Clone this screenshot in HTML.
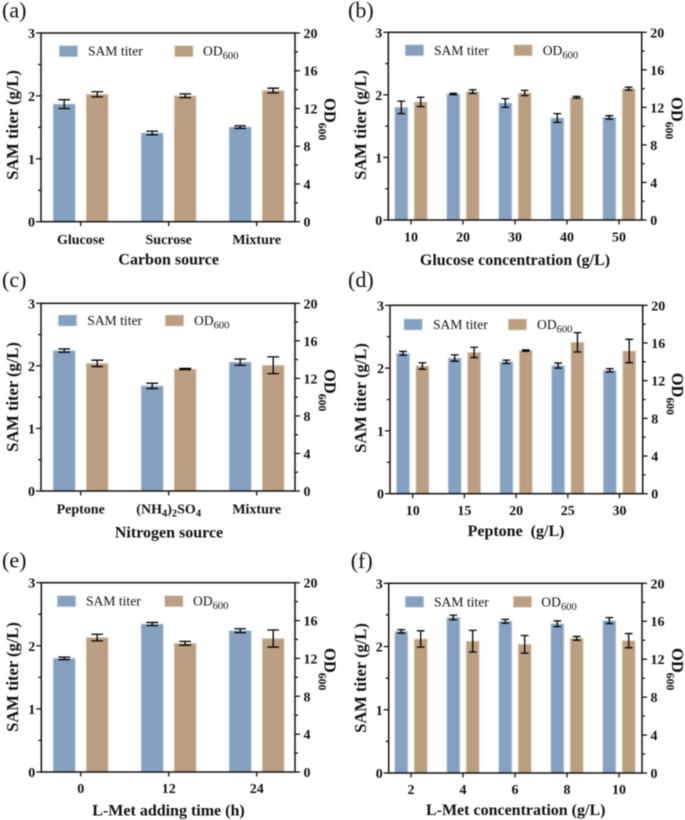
<!DOCTYPE html>
<html lang="en">
<head>
<meta charset="utf-8">
<title>SAM titer and OD600 under different culture conditions</title>
<style>
html,body{margin:0;padding:0;background:#fff;width:685px;height:820px;overflow:hidden}
svg{display:block;filter:blur(.4px)}
text{font-family:"Liberation Serif",serif;fill:#111}
.b{font-weight:bold}
</style>
</head>
<body>
<svg id="figure" width="685" height="820" viewBox="0 0 685 820" xmlns="http://www.w3.org/2000/svg"></svg>
<script>
// Shared axis tick values
const leftMajorTicks = [0, 1, 2, 3];
const leftMinorTicks = [0.5, 1.5, 2.5];
const rightMajorTicks = [0, 4, 8, 12, 16, 20];
const rightMinorTicks = [2, 6, 10, 14, 18];
const leftMax = 3;
const rightMax = 20;
const seriesNames = ["SAM titer", "OD_600"];

// Panel (a)
const catsA = ["Glucose", "Sucrose", "Mixture"];
const samA = [1.87, 1.41, 1.505];
const samErrA = [0.07, 0.03, 0.02];
const odA = [13.5, 13.35, 13.9];
const odErrA = [0.27, 0.2, 0.25];

// Panel (b)
const catsB = ["10", "20", "30", "40", "50"];
const samB = [1.8, 2.014, 1.87, 1.63, 1.64];
const samErrB = [0.1, 0.012, 0.07, 0.07, 0.027];
const odB = [12.58, 13.68, 13.53, 13.07, 14];
const odErrB = [0.5, 0.2, 0.28, 0.1, 0.16];

// Panel (c)
const catsC = ["Peptone", "(NH_4_)_2_SO_4", "Mixture"];
const samC = [2.245, 1.68, 2.06];
const samErrC = [0.027, 0.043, 0.05];
const odC = [13.6, 13, 13.4];
const odErrC = [0.34, 0.06, 0.89];

// Panel (d)
const catsD = ["10", "15", "20", "25", "30"];
const samD = [2.235, 2.16, 2.1, 2.04, 1.965];
const samErrD = [0.03, 0.05, 0.027, 0.04, 0.027];
const odD = [13.56, 15, 15.2, 16.07, 15.15];
const odErrD = [0.34, 0.55, 0.07, 1.03, 1.24];

// Panel (e)
const catsE = ["0", "12", "24"];
const samE = [1.8, 2.345, 2.24];
const samErrE = [0.02, 0.025, 0.03];
const odE = [14.2, 13.6, 14.1];
const odErrE = [0.35, 0.2, 0.9];

// Panel (f)
const catsF = ["2", "4", "6", "8", "10"];
const samF = [2.24, 2.46, 2.4, 2.36, 2.41];
const samErrF = [0.027, 0.037, 0.03, 0.045, 0.047];
const odF = [14.13, 13.9, 13.57, 14.2, 13.95];
const odErrF = [0.86, 1.14, 0.93, 0.2, 0.75];

const NS = "http://www.w3.org/2000/svg";
const fig = document.getElementById("figure");
const INK = "#111";
const BLUE = "#84a1c1";
const BROWN = "#bc9f80";
const BLUE_EDGE = "#c3d2e2";
const BROWN_EDGE = "#e2d3c3";

function make(parent, tag, attrs) {
  const el = document.createElementNS(NS, tag);
  for (const k in attrs) el.setAttribute(k, attrs[k]);
  parent.appendChild(el);
  return el;
}

// Text with _subscript_ runs written as real tspans
function rich(parent, str, attrs, subSize, subDrop) {
  const t = make(parent, "text", attrs);
  const parts = str.split("_");
  let pending = 0;
  parts.forEach(function (p, i) {
    if (!p) return;
    const sp = make(t, "tspan", {});
    sp.textContent = p;
    if (i % 2 === 1) {
      sp.setAttribute("font-size", subSize);
      sp.setAttribute("dy", subDrop - pending);
      pending = subDrop;
    } else if (pending) {
      sp.setAttribute("dy", -pending);
      pending = 0;
    }
  });
  return t;
}

function tick(g, x1, y1, x2, y2, name) {
  const l = make(g, "line", { x1: x1, y1: y1, x2: x2, y2: y2, stroke: INK, "stroke-width": 1.3 });
  
  
}

function drawPanel(p) {
  const g = make(fig, "g", {});
  
  

  const yLeft = function (v) { return p.bottom - (v / leftMax) * (p.bottom - p.top); };
  const yRight = function (v) { return p.bottom - (v / rightMax) * (p.bottom - p.top); };
  const xCat = function (i) { return p.left + p.first + i * p.step; };

  const lab = make(g, "text", { x: p.labelX, y: p.labelY, "font-size": 22 });
  lab.textContent = "(" + p.id + ")";
  
  

  // Bars
  function bars(vals, errs, scale, off, fill, edge, name) {
    vals.forEach(function (v, i) {
      const cx = xCat(i) + off;
      const bar = make(g, "rect", {
        x: cx - p.barW / 2, y: scale(v), width: p.barW, height: p.bottom - scale(v),
        fill: fill, stroke: edge, "stroke-width": 0.8
      });
      
      
      const eb = make(g, "path", {
        d: "M" + (cx - p.cap / 2) + " " + scale(v + errs[i]) + "H" + (cx + p.cap / 2) +
           "M" + cx + " " + scale(v + errs[i]) + "V" + scale(v - errs[i]) +
           "M" + (cx - p.cap / 2) + " " + scale(v - errs[i]) + "H" + (cx + p.cap / 2),
        fill: "none", stroke: "#000", "stroke-width": 1.3
      });
      
      
    });
  }
  bars(p.sam, p.samErr, yLeft, -p.barOff, BLUE, BLUE_EDGE, "sam-titer");
  bars(p.od, p.odErr, yRight, p.barOff, BROWN, BROWN_EDGE, "od600");

  // Frame
  const frame = make(g, "rect", {
    x: p.left, y: p.top, width: p.right - p.left, height: p.bottom - p.top,
    fill: "none", stroke: INK, "stroke-width": 1.5
  });
  
  

  // Left axis
  leftMajorTicks.forEach(function (v) {
    tick(g, p.left - 5, yLeft(v), p.left, yLeft(v), "left-major-tick");
    const t = make(g, "text", { x: p.left - 6, y: yLeft(v) + 5, "font-size": 14, "text-anchor": "end", "class": "b" });
    t.textContent = v;
    
    
  });
  leftMinorTicks.forEach(function (v) {
    tick(g, p.left - 3, yLeft(v), p.left, yLeft(v), "left-minor-tick");
  });

  // Right axis
  rightMajorTicks.forEach(function (v) {
    tick(g, p.right, yRight(v), p.right + 5, yRight(v), "right-major-tick");
    const t = make(g, "text", { x: p.right + 8.5, y: yRight(v) + 5, "font-size": 14, "class": "b" });
    t.textContent = v;
    
    
  });
  rightMinorTicks.forEach(function (v) {
    tick(g, p.right, yRight(v), p.right + 3, yRight(v), "right-minor-tick");
  });

  // Category axis
  p.cats.forEach(function (c, i) {
    tick(g, xCat(i), p.bottom, xCat(i), p.bottom + 4.5, "x-tick");
    const t = rich(g, c, { x: xCat(i), y: p.bottom + p.catDrop, "font-size": 14, "text-anchor": "middle", "class": "b" }, 10.5, 3);
    
    
  });

  // Axis titles
  const xt = make(g, "text", { x: p.titleX, y: p.titleY, "font-size": 16, "text-anchor": "middle", "class": "b" });
  xt.textContent = p.title;
  
  

  const yt = make(g, "text", {
    x: 0, y: 0, "font-size": 16.5, "text-anchor": "middle", "class": "b",
    transform: "translate(" + p.yLabelX + " " + p.yLabelY + ") rotate(-90)"
  });
  yt.textContent = "SAM titer (g/L)";
  
  

  const rt = rich(g, "OD_600", {
    x: 0, y: 0, "font-size": 16.5, "class": "b",
    transform: "translate(" + p.rLabelX + " " + p.rLabelY + ") rotate(90)"
  }, 11.7, 5.6);
  
  

  // Legend
  const lg = make(g, "g", {});
  
  
  [[p.legX1, BLUE, BLUE_EDGE, p.legT1], [p.legX2, BROWN, BROWN_EDGE, p.legT2]].forEach(function (e, i) {
    const s = make(lg, "rect", { x: e[0], y: p.legY, width: 18.3, height: 11, fill: e[1], stroke: e[2], "stroke-width": 0.7 });
    
    
    const t = rich(lg, seriesNames[i], { x: e[3], y: p.legY + 10, "font-size": 13.6 }, 10.5, 3.5);
    
    
  });
}

const wideBars = { first: 39.7, step: 88, barW: 22, barOff: 16.5, cap: 11.7 };
const narrowBars = { first: 22.7, step: 52, barW: 13, barOff: 9.7, cap: 7.7 };

drawPanel(Object.assign({}, wideBars, {
  id: "a", left: 41, right: 295, top: 33, bottom: 221.7,
  cats: catsA, sam: samA, samErr: samErrA, od: odA, odErr: odErrA,
  title: "Carbon source", titleX: 168.7, titleY: 264.5, catDrop: 22.3,
  labelX: 2, labelY: 17.7, yLabelX: 18, yLabelY: 125, rLabelX: 324.3, rLabelY: 98,
  legX1: 59.3, legT1: 88, legX2: 174.7, legT2: 203, legY: 45.7
}));
drawPanel(Object.assign({}, narrowBars, {
  id: "b", left: 388.3, right: 641.7, top: 32.3, bottom: 220,
  cats: catsB, sam: samB, samErr: samErrB, od: odB, odErr: odErrB,
  title: "Glucose concentration (g/L)", titleX: 515, titleY: 265, catDrop: 21.3,
  labelX: 348, labelY: 17.7, yLabelX: 366, yLabelY: 125, rLabelX: 671.3, rLabelY: 97,
  legX1: 405.3, legT1: 434, legX2: 514, legT2: 542.7, legY: 44.8
}));
drawPanel(Object.assign({}, wideBars, {
  id: "c", left: 41, right: 295, top: 303.3, bottom: 491,
  cats: catsC, sam: samC, samErr: samErrC, od: odC, odErr: odErrC,
  title: "Nitrogen source", titleX: 169, titleY: 537.7, catDrop: 22.3,
  labelX: 2, labelY: 287, yLabelX: 18, yLabelY: 397, rLabelX: 324.3, rLabelY: 369,
  legX1: 58.3, legT1: 87.3, legX2: 165.3, legT2: 194, legY: 315
}));
drawPanel(Object.assign({}, narrowBars, {
  id: "d", left: 390, right: 642.7, top: 305.3, bottom: 493.7, step: 51.7,
  cats: catsD, sam: samD, samErr: samErrD, od: odD, odErr: odErrD,
  title: "Peptone\u00a0\u00a0(g/L)", titleX: 516, titleY: 536, catDrop: 21.5,
  labelX: 348, labelY: 287, yLabelX: 366, yLabelY: 398, rLabelX: 672, rLabelY: 372.7,
  legX1: 404, legT1: 433, legX2: 508.3, legT2: 537, legY: 319
}));
drawPanel(Object.assign({}, wideBars, {
  id: "e", left: 41.3, right: 295, top: 582.7, bottom: 772, first: 39.4,
  cats: catsE, sam: samE, samErr: samErrE, od: odE, odErr: odErrE,
  title: "L-Met adding time (h)", titleX: 168.5, titleY: 815.5, catDrop: 21,
  labelX: 2, labelY: 567.7, yLabelX: 18, yLabelY: 677, rLabelX: 324.3, rLabelY: 648,
  legX1: 57.3, legT1: 86, legX2: 164.7, legT2: 193, legY: 595.7
}));
drawPanel(Object.assign({}, narrowBars, {
  id: "f", left: 388.7, right: 642, top: 583.3, bottom: 773, first: 22.3,
  cats: catsF, sam: samF, samErr: samErrF, od: odF, odErr: odErrF,
  title: "L-Met concentration (g/L)", titleX: 515.7, titleY: 815, catDrop: 21,
  labelX: 350.7, labelY: 568, yLabelX: 366, yLabelY: 678, rLabelX: 672, rLabelY: 648,
  legX1: 405.3, legT1: 434, legX2: 513.3, legT2: 541.3, legY: 596.3
}));
</script>
</body>
</html>
